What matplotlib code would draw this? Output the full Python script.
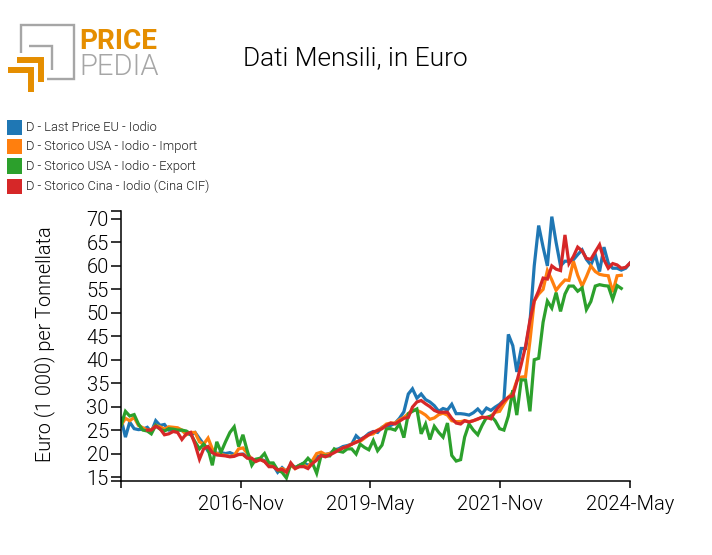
import numpy as np
import pandas as pd
import matplotlib
matplotlib.use('Agg')
import matplotlib.pyplot as plt
from matplotlib.patches import Rectangle
from matplotlib.lines import Line2D

plt.rcParams['font.family'] = ['Roboto', 'DejaVu Sans']
plt.rcParams['font.weight'] = 300
plt.rcParams['axes.labelweight'] = 300

nan = np.nan

# Monthly values, Aug 2014 -> May 2024
months = pd.date_range('2014-08-01', periods=118, freq='MS')

last_price_eu = [
    27.5, 23.5, 26.7, 25.3, 25.1, 25.2, 25.6, 24.6, 27, 26,
    26.2, 25, 25.1, 25.2, 24.9, 24.3, 24, 24.5, 23.2, 22,
    20.5, 20.2, 20, 20.2, 20, 20.2, 19.8, 19.8, 19.9, 19.2,
    18.8, 18.6, 18.8, 18.5, 17.5, 17.5, 16, 17, 16.2, 17.5,
    17, 17.5, 18, 17.5, 18, 19.3, 19.5, 19.8, 20, 20.8,
    21, 21.5, 21.7, 22, 23.8, 23, 23.5, 24.3, 24.7, 24.5,
    25.6, 26, 26, 26.5, 27.5, 28.9, 32.7, 33.8, 31.8, 32.7,
    31.5, 31, 30.2, 29, 29.6, 29.3, 30.5, 28.5, 28.5, 28.4,
    28.2, 28.7, 29.5, 28.5, 29.7, 29.2, 29.9, 30.5, 31.4, 45.4,
    43, 37.4, 42.4, 42.4, 48, 60, 68.6, 64, 60, 70.5,
    65, 60, 61, 61, 61.3, 62.4, 63.4, 61.4, 60.2, 62.4,
    58.8, 64, 60.6, 59.5, 59.5, 59.1, 59.5, 60.6,
]
usa_import = [
    26, 27.5, 27, 27.7, 26, 25.5, 25, 25, 26, 25.7,
    25.2, 25.7, 25.6, 25.5, 25, 24, 24.5, 24.5, 22.5, 22,
    23.3, 21, 20, 19.8, 19.6, 19.4, 19.6, 21, 21.2, 20,
    18.8, 18.4, 18.8, 18.3, 17.5, 17.3, 16.5, 16.8, 16.3, 17.5,
    16.8, 17.5, 17.5, 17, 18.5, 20, 20.3, 19.8, 20, 20.5,
    20.7, 21.2, 21.5, 22, 22.5, 22.6, 23.3, 24, 24.2, 25,
    25.5, 26.3, 26.5, 26.5, 27.2, 27.7, 28.5, 29.3, 29.2, 28.8,
    28.2, 27.3, 27.6, 28.3, 28.6, 28.2, 27, 26.8, 26.8, 27,
    26.8, 27, 27.3, 27.8, 27.5, 28, 28.8, 29, 30.6, 32,
    33, 35.5, 36.3, 36.4, 44, 52.5, 54, 55, 59, 57,
    54.8, 56, 57, 56.9, 61, 58, 55.7, 57.7, 60, 58.8,
    58.2, 58, 57.9, 54.4, 57.9, 58, nan, nan,
]
usa_export = [
    26, 29, 28, 28.3, 26.3, 25, 24.8, 24.2, 26, 25.2,
    24.8, 25.3, 25.2, 25, 25, 24.8, 24.2, 22.5, 21, 22,
    21, 17.5, 22.5, 20.3, 22.5, 24.5, 25.7, 21.5, 24, 20.5,
    17.5, 18.8, 19, 20, 18, 18, 16.5, 16, 14.8, 17.8,
    17, 17.5, 18, 19, 18, 15.8, 19.6, 19.5, 19.5, 21,
    20.5, 20.3, 21, 21, 19.9, 22, 21.3, 20.8, 22.8, 20.6,
    21.8, 25.3, 25.3, 25, 26.3, 23.4, 28.5, 29, 29.5, 24.2,
    26.3, 23, 25.8, 24.5, 23.5, 26.5, 19.6, 18.4, 18.7, 23.5,
    26.3, 25, 24, 26, 27.7, 28, 27, 25.3, 25, 28,
    33.5, 28.2, 35.7, 35.7, 29, 40, 40.3, 48, 52.5, 51,
    54.3, 50.3, 54, 55.7, 55.7, 54.6, 55.3, 50.7, 52.4, 55.7,
    56, 55.8, 55.7, 52.9, 55.8, 55.2, nan, nan,
]
cina_cif = [
    nan, nan, nan, nan, nan, nan, 25, 25, 25.8, 25.3,
    24, 24.2, 24.7, 24.5, 23, 24.2, 24.5, 22, 18.8, 21,
    21.5, 20.2, 19.7, 19.6, 19.5, 19.3, 19.4, 19.8, 19.8, 19,
    19, 18.3, 18.7, 18.3, 17.2, 17.2, 16.5, 16.6, 16, 18,
    16.8, 17.2, 17.2, 16.8, 17.9, 18.6, 19.6, 19.3, 19.7, 20.2,
    20.7, 21.2, 21.5, 22, 22.4, 22.8, 23.5, 24, 24.6, 24.9,
    25.3, 26, 26.5, 26.3, 26.9, 27.5, 27.7, 29.9, 31, 31.3,
    30.6, 30, 29.2, 28.8, 28.8, 28.8, 27.5, 26.5, 26.3, 27,
    26.7, 27, 27.4, 27.7, 27.7, 27.4, 29, 30.2, 31.2, 32,
    32.3, 35.3, 39, 42.8, 48.4, 52.5, 54.7, 57.4, 57.2, 60,
    59.3, 59, 66.6, 60.5, 62, 64, 63.2, 61.6, 61.4, 63,
    64.5, 61.3, 59.5, 60.5, 60.2, 59.5, 59.7, 60.6,
]

series_names = [
    'D - Last Price EU - Iodio',
    'D - Storico USA - Iodio - Import',
    'D - Storico USA - Iodio - Export',
    'D - Storico Cina - Iodio (Cina CIF)',
]
series_values = [last_price_eu, usa_import, usa_export, cina_cif]
colors = ['#1f77b4', '#ff7f0e', '#2ca02c', '#d62728']

y_ticks = [15, 20, 25, 30, 35, 40, 45, 50, 55, 60, 65, 70]
x_tick_labels = ['2016-Nov', '2019-May', '2021-Nov', '2024-May']
# the original ticks sit a little after the first of the month
x_tick_dates = ['2016-11-15', '2019-05-08', '2021-11-04', '2024-05-01']

W, H = 712, 555
fig = plt.figure(figsize=(W / 100, H / 100), dpi=100)
ax = fig.add_axes([121 / W, 1 - 481 / H, 509 / W, 270 / H])

for values, name, color in zip(series_values, series_names, colors):
    ax.plot(months, values, color=color, lw=2.3, label=name, solid_joinstyle='miter')

ymin, ymax = 14.15, 71.7
ax.set_ylim(ymin, ymax)
ax.set_xlim(months[0], months[-1])

# blank ticks at both ends of the axis, like the d3 outer ticks
ax.set_yticks([ymin] + y_ticks + [ymax])
ax.set_yticklabels([''] + [str(v) for v in y_ticks] + [''])
ax.set_xticks([months[0]] + [pd.Timestamp(d) for d in x_tick_dates])
ax.set_xticklabels([''] + x_tick_labels)
ax.tick_params(axis='y', length=7.2, width=1.1, labelsize=14.5, pad=1.5)
ax.tick_params(axis='x', length=5, width=1.1, labelsize=14.5, pad=5)
ax.spines[['top', 'right']].set_visible(False)
ax.spines[['left', 'bottom']].set_linewidth(1.1)
ax.set_ylabel('Euro (1 000) per Tonnellata', fontsize=14.3, fontweight=300)
ax.yaxis.set_label_coords((55 - 121) / 509, (481 - 344) / 270)

fig.text(355.5 / W, 1 - 58 / H, 'Dati Mensili, in Euro', fontsize=18.9,
         ha='center', va='center')

# legend, pixel positions from the top left corner
for k, (name, color) in enumerate(zip(series_names, colors)):
    y = [127, 146, 166, 186][k]
    fig.add_artist(Rectangle((7 / W, 1 - (y + 7.5) / H), 15 / W, 15 / H,
                             transform=fig.transFigure, facecolor=color, edgecolor='none'))
    fig.text(26 / W, 1 - (y + 0.5) / H, name, fontsize=9.3, ha='left', va='center', color='#222222')

# logo
def logo_line(xs, ys, color, lw):
    fig.add_artist(Line2D([x / W for x in xs], [1 - y / H for y in ys],
                          transform=fig.transFigure, color=color, lw=lw,
                          solid_joinstyle='miter', solid_capstyle='butt'))

logo_line([20.5, 20.5, 73.5, 73.5, 47], [53, 24.5, 24.5, 78.5, 78.5], '#a6a6a6', 1.7)
logo_line([29, 52, 52], [46, 46, 70], '#a6a6a6', 1.7)
logo_line([17, 41, 41], [59.5, 59.5, 82], '#e58e00', 4.3)
logo_line([8, 31, 31], [70, 70, 92], '#e58e00', 4.3)
fig.text(79 / W, 1 - 49 / H, 'PRICE', fontsize=20.2, fontweight='bold', color='#e58e00',
         ha='left', va='baseline')
fig.text(79 / W, 1 - 75 / H, 'PEDIA', fontsize=21, fontweight=300, color='#a6a6a6',
         ha='left', va='baseline')

fig.savefig('out.png', dpi=100)
